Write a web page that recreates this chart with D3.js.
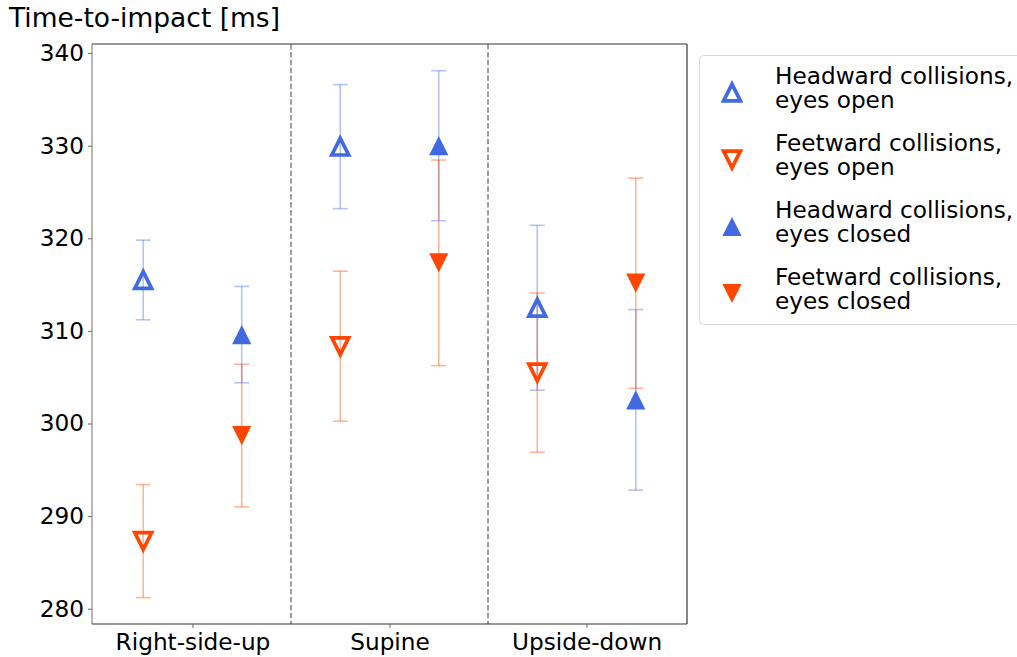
<!DOCTYPE html>
<html>
<head>
<meta charset="utf-8">
<script src="https://cdn.jsdelivr.net/npm/d3@7"></script>
<style>
  html, body { margin: 0; padding: 0; background: #fff; }
  svg { display: block; font-family: "DejaVu Sans", sans-serif; }
</style>
</head>
<body>
<svg id="chart" width="1017" height="657"></svg>
<script>
// Body orientations on the x axis
const categories = ["Right-side-up", "Supine", "Upside-down"];

// Mean time-to-impact [ms] and error half-widths per condition
const headwardOpen      = [315.5, 329.9, 312.5];
const headwardOpenErr   = [4.3, 6.7, 8.9];
const feetwardOpen      = [287.3, 308.35, 305.5];
const feetwardOpenErr   = [6.1, 8.1, 8.6];
const headwardClosed    = [309.6, 330.0, 302.55];
const headwardClosedErr = [5.2, 8.1, 9.75];
const feetwardClosed    = [298.7, 317.35, 315.15];
const feetwardClosedErr = [7.7, 11.1, 11.35];

const yTicks = [280, 290, 300, 310, 320, 330, 340];

const BLUE = "#4169e1";   // royalblue
const ORANGE = "#ff4500"; // orangered

const series = [
  { label: ["Headward collisions,", "eyes open"],   values: headwardOpen,   errs: headwardOpenErr,   color: BLUE,   dir: "up",   filled: false, offset: -0.25 },
  { label: ["Feetward collisions,", "eyes open"],   values: feetwardOpen,   errs: feetwardOpenErr,   color: ORANGE, dir: "down", filled: false, offset: -0.25 },
  { label: ["Headward collisions,", "eyes closed"], values: headwardClosed, errs: headwardClosedErr, color: BLUE,   dir: "up",   filled: true,  offset: 0.25 },
  { label: ["Feetward collisions,", "eyes closed"], values: feetwardClosed, errs: feetwardClosedErr, color: ORANGE, dir: "down", filled: true,  offset: 0.25 }
];

const svg = d3.select("#chart");
const plot = { left: 92, right: 687, top: 44, bottom: 624 };
const FONT = 23.2;
const TITLE_FONT = 26.5;

const x = d3.scaleLinear().domain([-0.51, 2.51]).range([plot.left, plot.right]);
const y = d3.scaleLinear().domain([278.35, 340.98]).range([plot.bottom, plot.top]);

// Triangle marker path centred on its bounding box
function triangle(s, dir) {
  return dir === "up"
    ? `M0,${-s}L${s},${s}L${-s},${s}Z`
    : `M0,${s}L${s},${-s}L${-s},${-s}Z`;
}

// Dashed separators between orientations
svg.append("g").selectAll("line")
  .data([0.5, 1.5])
  .join("line")
  .attr("x1", d => x(d)).attr("x2", d => x(d))
  .attr("y1", plot.top).attr("y2", plot.bottom)
  .attr("stroke", "#808080")
  .attr("stroke-width", 1.5)
  .attr("stroke-dasharray", "5.5,2.4");

// Error bars
const errG = svg.append("g");
series.forEach(s => {
  const g = errG.append("g")
    .attr("stroke", s.color)
    .attr("stroke-opacity", 0.4)
    .attr("stroke-width", 1.6);
  s.values.forEach((v, i) => {
    const cx = x(i + s.offset);
    const hi = y(v + s.errs[i]);
    const lo = y(v - s.errs[i]);
    g.append("line").attr("x1", cx).attr("x2", cx).attr("y1", hi).attr("y2", lo);
    g.append("line").attr("x1", cx - 7.5).attr("x2", cx + 7.5).attr("y1", hi).attr("y2", hi);
    g.append("line").attr("x1", cx - 7.5).attr("x2", cx + 7.5).attr("y1", lo).attr("y2", lo);
  });
});

// Markers
const markG = svg.append("g");
function drawMarker(sel, s) {
  if (s.filled) {
    sel.attr("d", triangle(9.6, s.dir)).attr("fill", s.color).attr("stroke", "none");
  } else {
    sel.attr("d", triangle(8.4, s.dir)).attr("fill", "none")
      .attr("stroke", s.color).attr("stroke-width", 3.7).attr("stroke-linejoin", "miter");
  }
}
series.forEach(s => {
  markG.append("g").selectAll("path")
    .data(s.values)
    .join("path")
    .attr("transform", (v, i) => `translate(${x(i + s.offset)},${y(v)})`)
    .call(sel => drawMarker(sel, s));
});

// Frame
svg.append("line").attr("x1", plot.left).attr("x2", plot.left).attr("y1", plot.top).attr("y2", plot.bottom)
  .attr("stroke", "#888").attr("stroke-width", 1.2);
svg.append("line").attr("x1", plot.right).attr("x2", plot.right).attr("y1", plot.top).attr("y2", plot.bottom)
  .attr("stroke", "#333").attr("stroke-width", 1.2);
svg.append("line").attr("x1", plot.left).attr("x2", plot.right).attr("y1", plot.top).attr("y2", plot.top)
  .attr("stroke", "#333").attr("stroke-width", 1.2);
svg.append("line").attr("x1", plot.left).attr("x2", plot.right).attr("y1", plot.bottom).attr("y2", plot.bottom)
  .attr("stroke", "#333").attr("stroke-width", 1.2);

// Y axis
const yAxis = svg.append("g")
  .attr("transform", `translate(${plot.left},0)`)
  .call(d3.axisLeft(y).tickValues(yTicks).tickSize(4).tickPadding(4).tickFormat(d3.format("d")));
yAxis.select(".domain").remove();
yAxis.selectAll(".tick line").attr("stroke", "#666");
yAxis.selectAll(".tick text").attr("font-size", FONT).attr("fill", "#000")
  .attr("font-family", "DejaVu Sans, sans-serif");

// X axis
const xAxis = svg.append("g")
  .attr("transform", `translate(0,${plot.bottom})`)
  .call(d3.axisBottom(x).tickValues([0, 1, 2]).tickSize(4).tickPadding(6).tickFormat(i => categories[i]));
xAxis.select(".domain").remove();
xAxis.selectAll(".tick line").attr("stroke", "#666");
xAxis.selectAll(".tick text").attr("font-size", FONT).attr("fill", "#000")
  .attr("font-family", "DejaVu Sans, sans-serif");

// Y axis title
svg.append("text")
  .attr("x", 9).attr("y", 27)
  .attr("font-size", TITLE_FONT)
  .attr("fill", "#000")
  .text("Time-to-impact [ms]");

// Legend
const legend = svg.append("g");
legend.append("rect")
  .attr("x", 699.5).attr("y", 55.5)
  .attr("width", 340).attr("height", 269)
  .attr("rx", 4)
  .attr("fill", "#fff")
  .attr("stroke", "#d9d9d9")
  .attr("stroke-width", 1);
series.forEach((s, i) => {
  const cy = 92.5 + 67 * i;
  legend.append("path")
    .attr("transform", `translate(732,${cy})`)
    .call(sel => drawMarker(sel, s));
  const t = legend.append("text")
    .attr("x", 775)
    .attr("font-size", FONT)
    .attr("fill", "#000");
  t.append("tspan").attr("x", 775).attr("y", cy - 9).text(s.label[0]);
  t.append("tspan").attr("x", 775).attr("y", cy + 15.7).text(s.label[1]);
});
</script>
</body>
</html>
